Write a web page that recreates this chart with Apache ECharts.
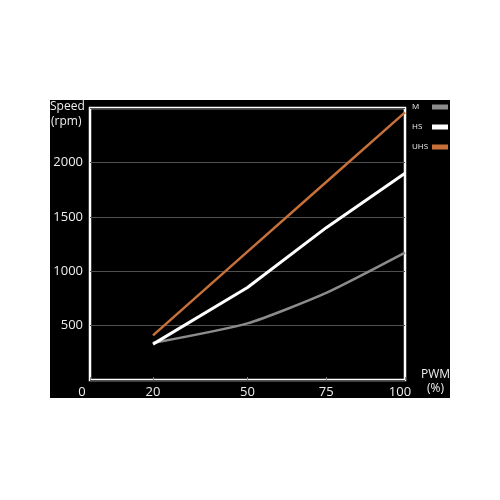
<!DOCTYPE html>
<html><head><meta charset="utf-8">
<script src="https://cdn.jsdelivr.net/npm/echarts@6/dist/echarts.min.js"></script>
<style>html,body{margin:0;padding:0;background:#fff}#c{width:500px;height:500px}</style>
</head><body><div id="c"></div>
<script>
const pwm = [20, 50, 75, 100];
const seriesNames = ['M', 'HS', 'UHS'];
const speedM = [340, 520, 800, 1170];
const speedHS = [330, 850, 1400, 1900];
const speedUHS = [410, 1180, 1820, 2460];
const xTicks = [0, 20, 50, 75, 100];
const yTicks = [500, 1000, 1500, 2000];
const colors = ['#8c8c8c', '#ffffff', '#c8703a'];

const font = 'Open Sans';
const chart = echarts.init(document.getElementById('c'));
const pairs = arr => pwm.map((x, i) => [x, arr[i]]);
chart.setOption({
  backgroundColor: '#fff',
  animation: false,
  graphic: [
    { type: 'rect', z: -10, shape: { x: 50, y: 100, width: 400, height: 298 }, style: { fill: '#000' } },
    { type: 'text', left: 50, top: 101, style: { text: 'Speed', fill: '#eee', font: '12px "Open Sans"' } },
    { type: 'text', left: 51, top: 116, style: { text: '(rpm)', fill: '#eee', font: '12px "Open Sans"' } },
    { type: 'text', left: 421, top: 369, style: { text: 'PWM', fill: '#eee', font: '12px "Open Sans"' } },
    { type: 'text', left: 427, top: 383, style: { text: '(%)', fill: '#eee', font: '12px "Open Sans"' } }
  ],
  grid: { left: 90, right: 95, top: 108, bottom: 120, show: true, borderColor: '#fff', borderWidth: 2.5, backgroundColor: 'transparent' },
  legend: {
    orient: 'vertical', left: 407, top: 98, itemGap: 12,
    align: 'right', icon: 'rect', itemWidth: 16, itemHeight: 5,
    data: seriesNames,
    formatter: '{t|{name}}',
    textStyle: {
      color: '#eee', fontSize: 8, fontFamily: font,
      rich: { t: { width: 15, align: 'left', color: '#eee', fontSize: 8, fontFamily: font } }
    }
  },
  xAxis: {
    type: 'value', min: 0, max: 100,
    axisLine: { show: false },
    splitLine: { show: false },
    axisTick: { show: true, inside: true, length: 3, lineStyle: { color: '#888' }, customValues: xTicks },
    axisLabel: {
      color: '#eee', fontSize: 13, fontFamily: font, margin: 6,
      customValues: xTicks,
      formatter: v => v === 0 ? '{a|0}' : (v === 100 ? '{b|100}' : String(v)),
      rich: {
        a: { color: '#eee', fontSize: 13, fontFamily: font, padding: [0, 16, 0, 0] },
        b: { color: '#eee', fontSize: 13, fontFamily: font, padding: [0, 10, 0, 0] }
      }
    }
  },
  yAxis: {
    type: 'value', min: 0, max: 2500, interval: 500,
    axisLine: { show: false }, axisTick: { show: false },
    splitLine: { show: true, lineStyle: { color: '#505050', width: 1 } },
    axisLabel: {
      color: '#eee', fontSize: 13, fontFamily: font, margin: 7,
      formatter: v => yTicks.indexOf(v) >= 0 ? String(v) : ''
    }
  },
  series: [
    { name: 'M', type: 'line', data: pairs(speedM), symbol: 'none', smooth: 0.2, lineStyle: { color: colors[0], width: 2.5 }, itemStyle: { color: colors[0] } },
    { name: 'HS', type: 'line', data: pairs(speedHS), symbol: 'none', lineStyle: { color: colors[1], width: 3 }, itemStyle: { color: colors[1] } },
    { name: 'UHS', type: 'line', data: pairs(speedUHS), symbol: 'none', lineStyle: { color: colors[2], width: 2.5 }, itemStyle: { color: colors[2] } }
  ]
});
</script></body></html>
